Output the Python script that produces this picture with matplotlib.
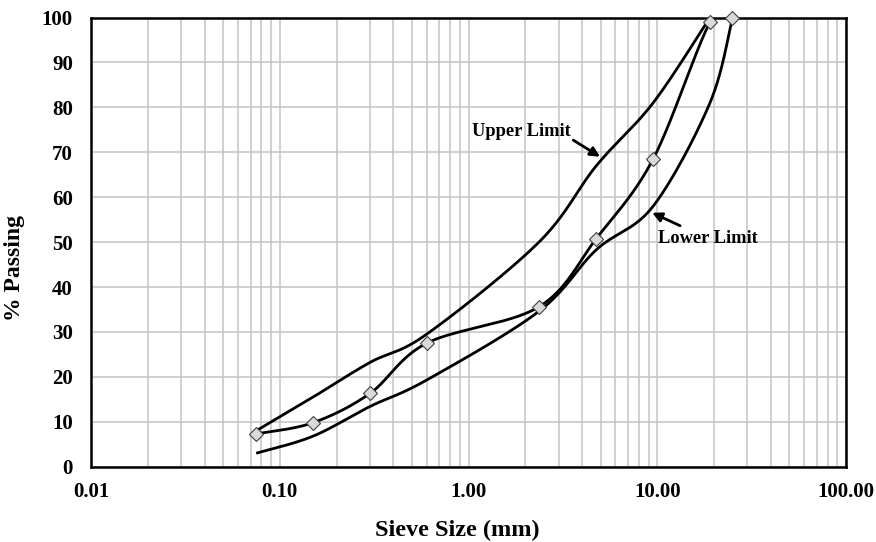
import numpy as np
import matplotlib
matplotlib.use("Agg")
import matplotlib.pyplot as plt
from matplotlib.ticker import FixedLocator, FixedFormatter, NullFormatter

# ---- data ----
sample_size = [0.075, 0.15, 0.3, 0.6, 2.36, 4.75, 9.5, 19.0, 25.0]
sample_pass = [7.3, 9.8, 16.3, 27.5, 35.6, 50.8, 68.5, 98.9, 100.0]

upper_size = [0.075, 0.15, 0.3, 0.6, 2.36, 4.75, 9.5, 19.0]
upper_pass = [8.0, 15.5, 23.2, 29.5, 50.0, 67.0, 81.0, 100.0]

lower_size = [0.075, 0.15, 0.3, 0.6, 2.36, 4.75, 9.5, 19.0, 25.0]
lower_pass = [3.0, 6.8, 13.4, 19.3, 34.6, 48.3, 58.0, 81.0, 100.0]

x_ticks = [0.01, 0.1, 1, 10, 100]
x_tick_labels = ["0.01", "0.10", "1.00", "10.00", "100.00"]
y_ticks = list(range(0, 101, 10))
y_tick_labels = [str(v) for v in y_ticks]


def smooth(xs, ys, n=40):
    """Excel-style smoothed line (Bezier through points) in log-x space."""
    lx = np.log10(np.asarray(xs, float))
    y = np.asarray(ys, float)
    P = np.column_stack([lx, y])
    m = len(P)
    out = []
    for i in range(m - 1):
        p0 = P[i - 1] if i > 0 else P[i]
        p1 = P[i]
        p2 = P[i + 1]
        p3 = P[i + 2] if i + 2 < m else P[i + 1]
        c1 = p1 + (p2 - p0) / 6.0
        c2 = p2 - (p3 - p1) / 6.0
        t = np.linspace(0, 1, n)[:, None]
        seg = ((1 - t) ** 3) * p1 + 3 * ((1 - t) ** 2) * t * c1 + 3 * (1 - t) * t ** 2 * c2 + t ** 3 * p2
        out.append(seg if i == 0 else seg[1:])
    out = np.vstack(out)
    return 10 ** out[:, 0], out[:, 1]


plt.rcParams['font.family'] = ['Liberation Serif', 'DejaVu Serif']
plt.rcParams['font.weight'] = 'bold'

fig = plt.figure(figsize=(8.76, 5.42), dpi=100)
ax = fig.add_axes([0.1039, 0.1389, 0.862, 0.8288])
ax.set_xscale('log')
ax.set_xlim(0.01, 100)
ax.set_ylim(0, 100)

lw = 2.0
ux, uy = smooth(upper_size, upper_pass)
ax.plot(ux, uy, color='black', lw=lw, zorder=3, solid_capstyle='butt')
lx, ly = smooth(lower_size, lower_pass)
ax.plot(lx, ly, color='black', lw=lw, zorder=3, solid_capstyle='butt')
sx, sy = smooth(sample_size, sample_pass)
ax.plot(sx, sy, color='black', lw=lw, zorder=3, solid_capstyle='butt')
ax.plot(sample_size, sample_pass, linestyle='none', marker='D', markersize=7,
        markerfacecolor='#d9d9d9', markeredgecolor='#404040', markeredgewidth=0.8,
        zorder=4, clip_on=False)

# grid
ax.xaxis.set_major_locator(FixedLocator(x_ticks))
ax.xaxis.set_major_formatter(FixedFormatter(x_tick_labels))
ax.xaxis.set_minor_locator(matplotlib.ticker.LogLocator(base=10, subs=np.arange(2, 10)))
ax.xaxis.set_minor_formatter(NullFormatter())
ax.yaxis.set_major_locator(FixedLocator(y_ticks))
ax.yaxis.set_major_formatter(FixedFormatter(y_tick_labels))
ax.grid(True, which='major', axis='both', color='#c4c4c4', lw=1.1, zorder=0)
ax.grid(True, which='minor', axis='x', color='#c4c4c4', lw=1.1, zorder=0)
ax.set_axisbelow(True)

ax.tick_params(axis='both', which='both', length=0)
ax.tick_params(axis='x', which='major', pad=11, labelsize=15)
ax.tick_params(axis='y', which='major', pad=13, labelsize=15)
for lab in ax.get_xticklabels() + ax.get_yticklabels():
    lab.set_fontweight('bold')

for s in ax.spines.values():
    s.set_linewidth(1.8)
    s.set_color('black')

fig.text(15 / 876, 1 - 268 / 542, '% Passing', rotation=90, ha='center', va='center',
         fontsize=17, fontweight='bold')
fig.text(457 / 876, 6 / 542, 'Sieve Size (mm)', ha='center', va='baseline',
         fontsize=17.5, fontweight='bold')

ax.annotate('Upper Limit', xy=(4.97, 69.0), xytext=(1.04, 74.6),
            fontsize=13.2, fontweight='bold', va='center', ha='left',
            arrowprops=dict(arrowstyle='-|>', color='black', lw=2.0,
                            mutation_scale=14, shrinkA=0, shrinkB=0,
                            relpos=(1.0, 0.1)),
            annotation_clip=False)
ax.annotate('Lower Limit', xy=(9.1, 56.8), xytext=(10.1, 50.8),
            fontsize=13.2, fontweight='bold', va='center', ha='left',
            arrowprops=dict(arrowstyle='-|>', color='black', lw=2.0,
                            mutation_scale=14, shrinkA=0, shrinkB=2,
                            relpos=(0.22, 1.25)),
            annotation_clip=False)

fig.savefig('out.png', dpi=100)
